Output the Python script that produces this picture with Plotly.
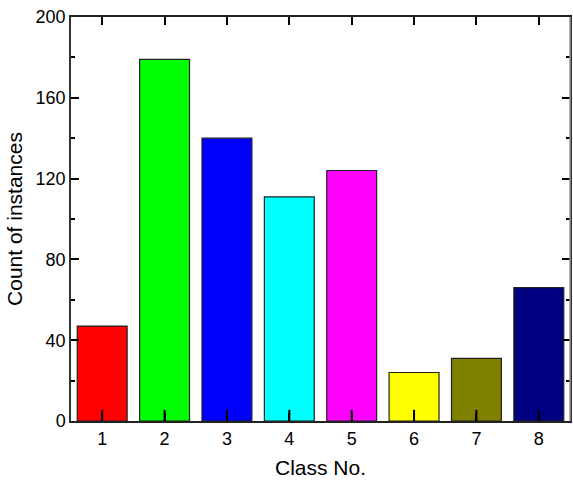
import plotly.graph_objects as go

classes = [1, 2, 3, 4, 5, 6, 7, 8]
counts = [47, 179, 140, 111, 124, 24, 31, 66]
bar_colors = ["#FF0000", "#00FF00", "#0000FF", "#00FFFF",
              "#FF00FF", "#FFFF00", "#808000", "#000080"]
y_ticks = [0, 40, 80, 120, 160, 200]

FONT = "Liberation Sans, Arial, sans-serif"

fig = go.Figure()
fig.add_trace(go.Bar(
    x=classes, y=counts,
    marker=dict(color=bar_colors, line=dict(color="#222222", width=1.2)),
    width=0.8,
    showlegend=False,
))

# bottom category ticks on top of the bars: vertical line markers sitting on
# the baseline, clipped so only the inner half shows
fig.add_trace(go.Scatter(
    x=classes, y=[0] * len(classes), mode="markers",
    marker=dict(symbol="line-ns", size=16,
                line=dict(color="black", width=2)),
    cliponaxis=True, showlegend=False, hoverinfo="skip",
))

fig.update_layout(
    width=573, height=480,
    margin=dict(l=71, r=1, t=17, b=59),
    plot_bgcolor="white", paper_bgcolor="white",
    font=dict(family=FONT, color="black", size=18),
    xaxis=dict(
        range=[0.5, 8.5], tickvals=classes, ticktext=[str(c) for c in classes],
        ticks="inside", ticklen=8, tickwidth=2, tickcolor="black",
        mirror="allticks", layer="above traces",
        showline=True, linecolor="#222222", linewidth=2,
        showgrid=False, zeroline=False,
        title=dict(text="Class No.", font=dict(size=21), standoff=13),
        tickfont=dict(size=18),
    ),
    yaxis=dict(
        range=[0, 200], tickvals=y_ticks,
        ticks="inside", ticklen=8, tickwidth=2, tickcolor="black",
        minor=dict(dtick=20, tick0=0, ticks="inside", ticklen=4,
                   tickwidth=2, tickcolor="black"),
        mirror="allticks", layer="above traces",
        showline=True, linecolor="#333333", linewidth=1.5,
        showgrid=False, zeroline=False,
        title=dict(text="Count of instances", font=dict(size=21), standoff=7),
        tickfont=dict(size=18),
    ),
    # lighter frame edge on the right side
    shapes=[dict(type="line", xref="paper", yref="paper",
                 x0=1, x1=1, y0=0, y1=1,
                 line=dict(color="#999999", width=1.5), layer="above")],
)

fig.write_html("out.html")
